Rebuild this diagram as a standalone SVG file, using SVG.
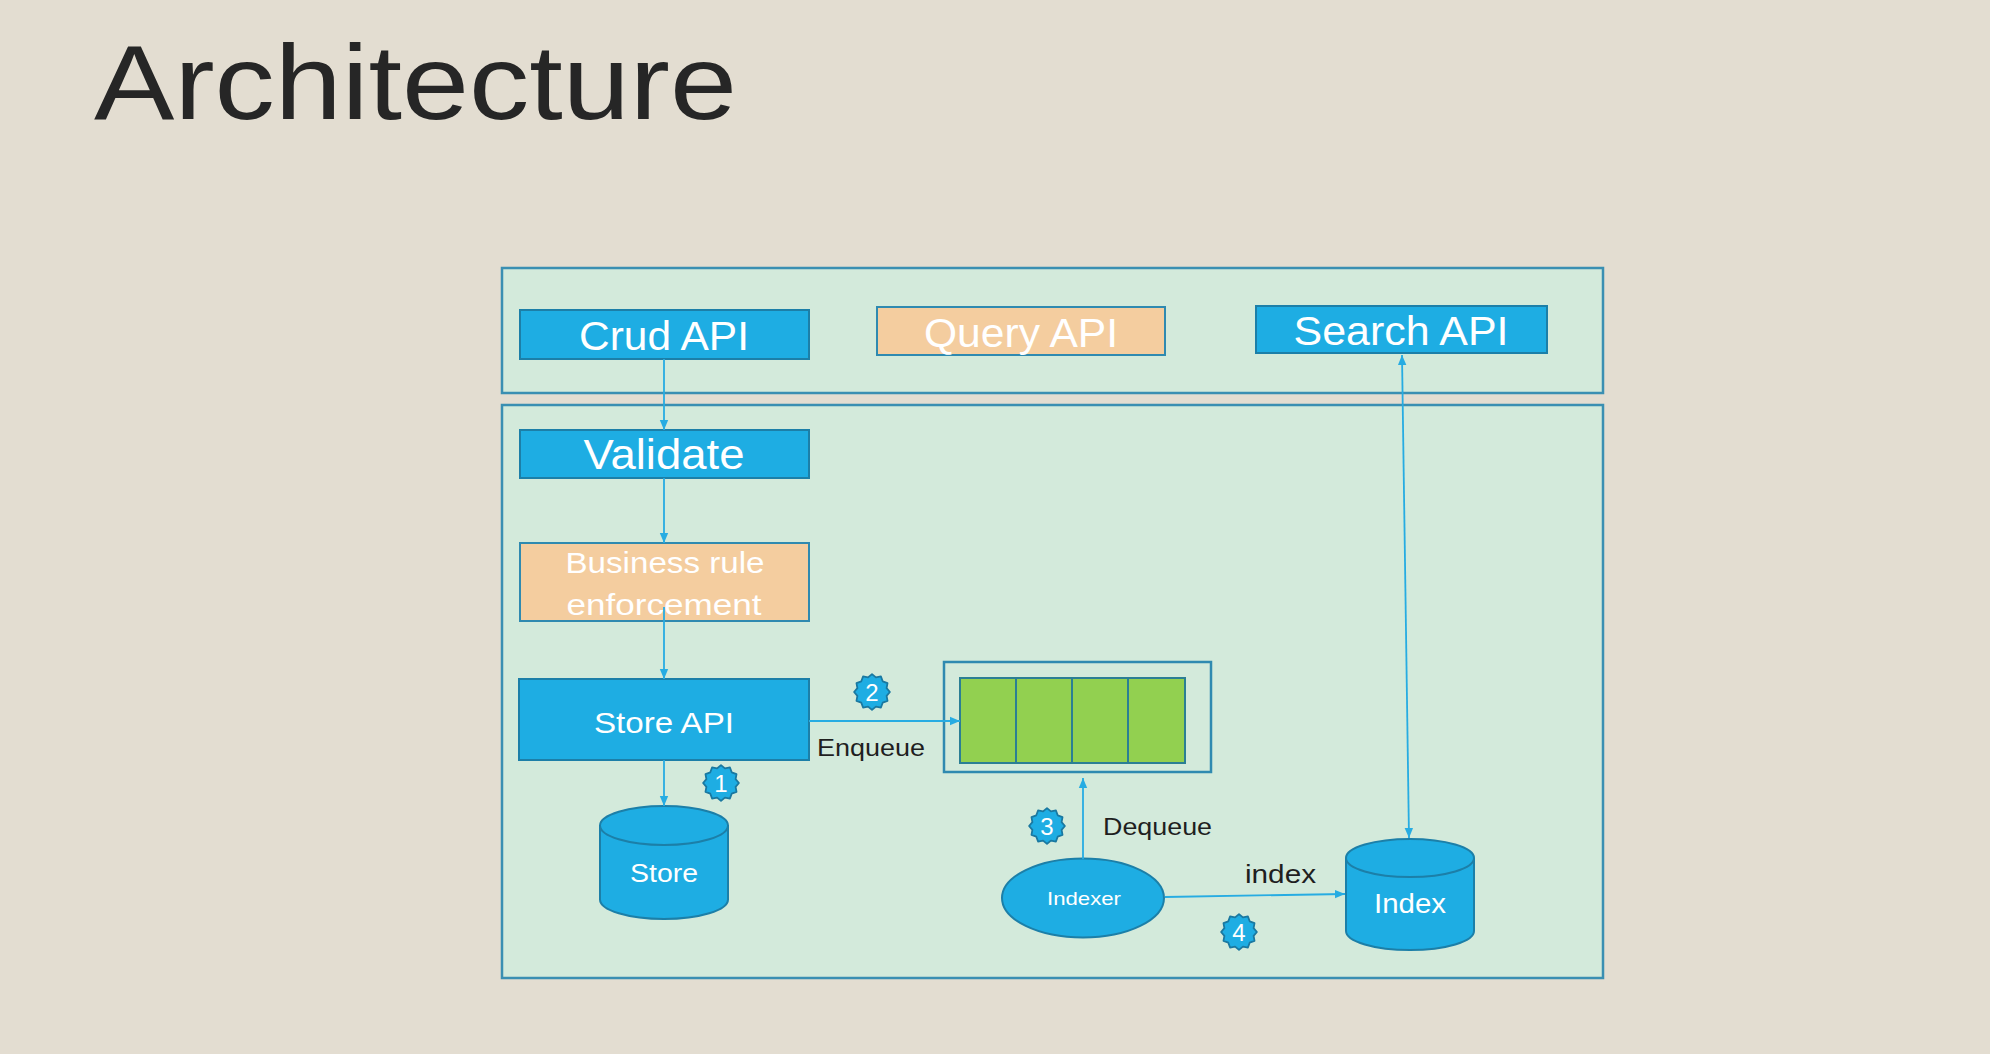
<svg xmlns="http://www.w3.org/2000/svg" width="1990" height="1054" viewBox="0 0 1990 1054">
<style>
.bg{fill:#e3ddd1}
.cont{fill:#d3eadb;stroke:#3a8fb2;stroke-width:2.5}
.blue{fill:#1eade3;stroke:#1c7fa8;stroke-width:2}
.peach{fill:#f4cd9f;stroke:#2f8ab0;stroke-width:2}
.lbl{font-family:"Liberation Sans",Arial,sans-serif;fill:#ffffff;text-anchor:middle}
.dark{font-family:"Liberation Sans",Arial,sans-serif;fill:#1f1f1f}
.conn{stroke:#27ace2;stroke-width:1.8;fill:none}
.cell{fill:#92d050;stroke:#2b7f94;stroke-width:2}
.badge{fill:#1eade3;stroke:#1a78a0;stroke-width:1.6;stroke-linejoin:round}
.num{font-family:"Liberation Sans",Arial,sans-serif;fill:#ffffff;text-anchor:middle;font-size:24px}
</style>
<defs>
<marker id="arr" markerUnits="userSpaceOnUse" markerWidth="12" markerHeight="10" refX="10" refY="5" orient="auto-start-reverse">
<path d="M0,0.8 L10,5 L0,9.2 Z" fill="#27ace2"/>
</marker>
<polygon id="seal" points="16,0 13.04,3.49 13.86,8 9.55,9.55 8,13.86 3.49,13.04 0,16 -3.49,13.04 -8,13.86 -9.55,9.55 -13.86,8 -13.04,3.49 -16,0 -13.04,-3.49 -13.86,-8 -9.55,-9.55 -8,-13.86 -3.49,-13.04 0,-16 3.49,-13.04 8,-13.86 9.55,-9.55 13.86,-8 13.04,-3.49"/>
</defs>
<rect class="bg" x="0" y="0" width="1990" height="1054"/>
<text x="94" y="119" class="dark" font-size="106" textLength="643" lengthAdjust="spacingAndGlyphs" style="fill:#262626">Architecture</text>

<g id="container-top"><rect class="cont" x="502" y="268" width="1101" height="125"/></g>
<g id="container-bottom"><rect class="cont" x="502" y="405" width="1101" height="573"/></g>

<g id="crud-api"><rect class="blue" x="520" y="310" width="289" height="49"/><text class="lbl" x="664" y="350" font-size="40" textLength="170" lengthAdjust="spacingAndGlyphs">Crud API</text></g>
<g id="query-api"><rect class="peach" x="877" y="307" width="288" height="48"/><text class="lbl" x="1021" y="347" font-size="40" textLength="194" lengthAdjust="spacingAndGlyphs">Query API</text></g>
<g id="search-api"><rect class="blue" x="1256" y="306" width="291" height="47"/><text class="lbl" x="1401" y="345" font-size="41" textLength="215" lengthAdjust="spacingAndGlyphs">Search API</text></g>
<g id="validate"><rect class="blue" x="520" y="430" width="289" height="48"/><text class="lbl" x="664" y="469" font-size="42" textLength="161" lengthAdjust="spacingAndGlyphs">Validate</text></g>
<g id="business-rule"><rect class="peach" x="520" y="543" width="289" height="78"/><text class="lbl" x="665" y="573" font-size="30" textLength="199" lengthAdjust="spacingAndGlyphs">Business rule</text><text class="lbl" x="664" y="615" font-size="30" textLength="195" lengthAdjust="spacingAndGlyphs">enforcement</text></g>
<g id="store-api"><rect class="blue" x="519" y="679" width="290" height="81"/><text class="lbl" x="664" y="733" font-size="30" textLength="140" lengthAdjust="spacingAndGlyphs">Store API</text></g>
<g id="queue"><rect x="944" y="662" width="267" height="110" fill="none" stroke="#2f8ab0" stroke-width="2.5"/><rect class="cell" x="960" y="678" width="56" height="85"/><rect class="cell" x="1016" y="678" width="56" height="85"/><rect class="cell" x="1072" y="678" width="56" height="85"/><rect class="cell" x="1128" y="678" width="57" height="85"/></g>
<g id="store"><path class="blue" d="M600,825.5 A64,19.5 0 0 1 728,825.5 V899.5 A64,19.5 0 0 1 600,899.5 Z"/><path d="M600,825.5 A64,19.5 0 0 0 728,825.5" fill="none" stroke="#1c7fa8" stroke-width="2"/><text class="lbl" x="664" y="882" font-size="26" textLength="68" lengthAdjust="spacingAndGlyphs">Store</text></g>
<g id="indexer"><ellipse class="blue" cx="1083" cy="898" rx="81" ry="39.5"/><text class="lbl" x="1084" y="905" font-size="19" textLength="74" lengthAdjust="spacingAndGlyphs">Indexer</text></g>
<g id="index"><path class="blue" d="M1346,858 A64,19 0 0 1 1474,858 V931 A64,19 0 0 1 1346,931 Z"/><path d="M1346,858 A64,19 0 0 0 1474,858" fill="none" stroke="#1c7fa8" stroke-width="2"/><text class="lbl" x="1410" y="913" font-size="27" textLength="72" lengthAdjust="spacingAndGlyphs">Index</text></g>

<g id="connectors">
<line class="conn" x1="664" y1="359" x2="664" y2="430" marker-end="url(#arr)"/>
<line class="conn" x1="664" y1="478" x2="664" y2="543" marker-end="url(#arr)"/>
<line class="conn" x1="664" y1="607" x2="664" y2="679" marker-end="url(#arr)"/>
<line class="conn" x1="664" y1="760" x2="664" y2="806" marker-end="url(#arr)"/>
<line class="conn" x1="809" y1="721" x2="960" y2="721" marker-end="url(#arr)"/>
<line class="conn" x1="1083" y1="859" x2="1083" y2="778" marker-end="url(#arr)"/>
<line class="conn" x1="1165" y1="897" x2="1345" y2="894" marker-end="url(#arr)"/>
<line class="conn" x1="1402" y1="355" x2="1409" y2="838" marker-start="url(#arr)" marker-end="url(#arr)"/>
<text class="dark" x="817" y="756" font-size="23" textLength="108" lengthAdjust="spacingAndGlyphs">Enqueue</text>
<text class="dark" x="1103" y="835" font-size="23" textLength="109" lengthAdjust="spacingAndGlyphs">Dequeue</text>
<text class="dark" x="1245" y="883" font-size="26" textLength="71" lengthAdjust="spacingAndGlyphs">index</text>
</g>

<g id="badge-1"><use href="#seal" class="badge" transform="translate(721,783) scale(1.12)"/><text class="num" x="721" y="792">1</text></g>
<g id="badge-2"><use href="#seal" class="badge" transform="translate(872,692) scale(1.12)"/><text class="num" x="872" y="701">2</text></g>
<g id="badge-3"><use href="#seal" class="badge" transform="translate(1047,826) scale(1.12)"/><text class="num" x="1047" y="835">3</text></g>
<g id="badge-4"><use href="#seal" class="badge" transform="translate(1239,932) scale(1.12)"/><text class="num" x="1239" y="941">4</text></g>
</svg>
